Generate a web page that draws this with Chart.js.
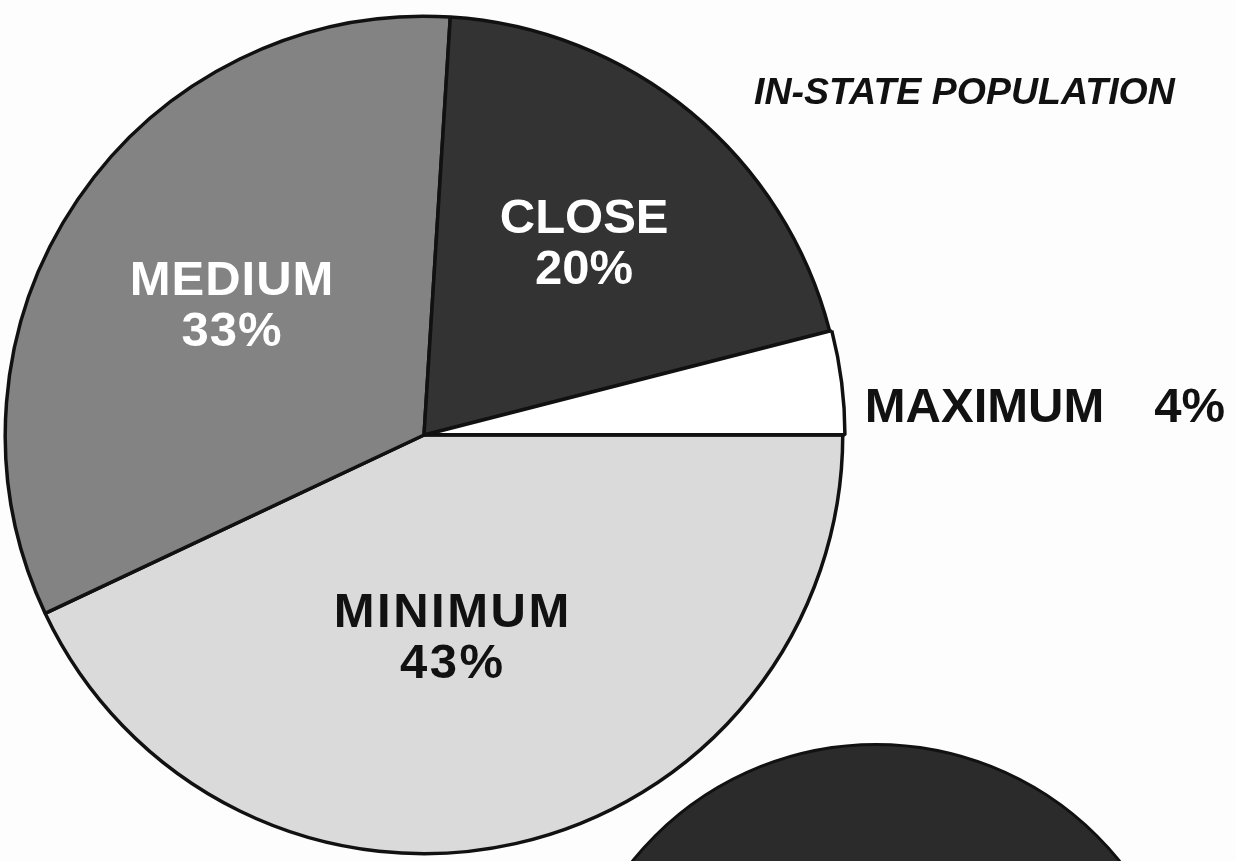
<!DOCTYPE html>
<html>
<head>
<meta charset="utf-8">
<script src="https://cdn.jsdelivr.net/npm/chart.js@4/dist/chart.umd.min.js"></script>
<style>
  html, body { margin: 0; padding: 0; width: 1236px; height: 861px; overflow: hidden; background: #fdfdfd; }
  #main { position: absolute; left: 0; top: 0; }
  #second { position: absolute; left: 562px; top: 743px; }
  #title { position: absolute; left: 754px; top: 69px; font-family: "Liberation Sans", Arial, sans-serif;
           font-weight: bold; font-style: italic; font-size: 37.5px; line-height: 44px; color: #111;
           letter-spacing: 0px; white-space: nowrap; }
</style>
</head>
<body>
<canvas id="second" width="628" height="628"></canvas>
<canvas id="main" width="1236" height="861"></canvas>
<div id="title">IN-STATE POPULATION</div>
<script>
// ---- data ----
const categories = ['MINIMUM', 'MEDIUM', 'CLOSE', 'MAXIMUM'];
const shares = [43, 33, 20, 4];
const sliceColors = ['#dadada', '#838383', '#333333', '#ffffff'];
const labelColors = ['#111111', '#ffffff', '#ffffff', '#111111'];
const secondCategories = ['OUT-OF-STATE'];
const secondShares = [100];

const FONT = '"Liberation Sans", Arial, sans-serif';

const sliceLabels = {
  id: 'sliceLabels',
  afterDatasetsDraw(chart, args, opts) {
    const ctx = chart.ctx;
    const meta = chart.getDatasetMeta(0);
    const data = chart.data.datasets[0].data;
    ctx.save();
    ctx.font = 'bold 49px ' + FONT;
    meta.data.forEach((arc, i) => {
      const p = arc.getProps(['x', 'y', 'startAngle', 'endAngle', 'outerRadius'], true);
      const mid = (p.startAngle + p.endAngle) / 2;
      const name = chart.data.labels[i];
      const val = data[i] + '%';
      const nudge = opts.nudge[i];
      ctx.fillStyle = labelColors[i];
      ctx.letterSpacing = opts.spacing[i] + 'px';
      if (opts.outside[i]) {
        const x = p.x + p.outerRadius + 24 + nudge[0];
        const y = p.y + Math.sin(mid) * p.outerRadius + 45 + nudge[1];
        ctx.textAlign = 'left';
        ctx.textBaseline = 'alphabetic';
        ctx.fillText(name, x, y);
        const w = ctx.measureText(name).width;
        ctx.fillText(val, x + w + 50, y);
      } else {
        const f = opts.radial[i];
        const cx = p.x + Math.cos(mid) * p.outerRadius * f + nudge[0];
        const cy = p.y + Math.sin(mid) * p.outerRadius * f + nudge[1];
        ctx.textAlign = 'center';
        ctx.textBaseline = 'alphabetic';
        ctx.fillText(name, cx, cy - 8);
        ctx.fillText(val, cx, cy + 43);
      }
    });
    ctx.restore();
  }
};

new Chart(document.getElementById('main'), {
  type: 'pie',
  data: {
    labels: categories,
    datasets: [{
      data: shares,
      backgroundColor: sliceColors,
      borderColor: '#111111',
      borderWidth: 3.5,
      offset: [0, 0, 0, 5]
    }]
  },
  options: {
    responsive: false,
    animation: false,
    rotation: 90,
    layout: { padding: { left: 1, top: 12, right: 389, bottom: 3 } },
    plugins: {
      legend: { display: false },
      tooltip: { enabled: false },
      sliceLabels: {
        radial: [0.49, 0.56, 0.60, 0],
        outside: [false, false, false, true],
        nudge: [[-16, 0], [2, 0], [0, 0], [-2, -6]],
        spacing: [2.5, 1, 0, 0]
      }
    }
  },
  plugins: [sliceLabels]
});

new Chart(document.getElementById('second'), {
  type: 'pie',
  data: {
    labels: secondCategories,
    datasets: [{
      data: secondShares,
      backgroundColor: ['#2b2b2b'],
      borderColor: '#111111',
      borderWidth: 3
    }]
  },
  options: {
    responsive: false,
    animation: false,
    rotation: 180,
    plugins: { legend: { display: false }, tooltip: { enabled: false } }
  }
});
</script>
</body>
</html>
